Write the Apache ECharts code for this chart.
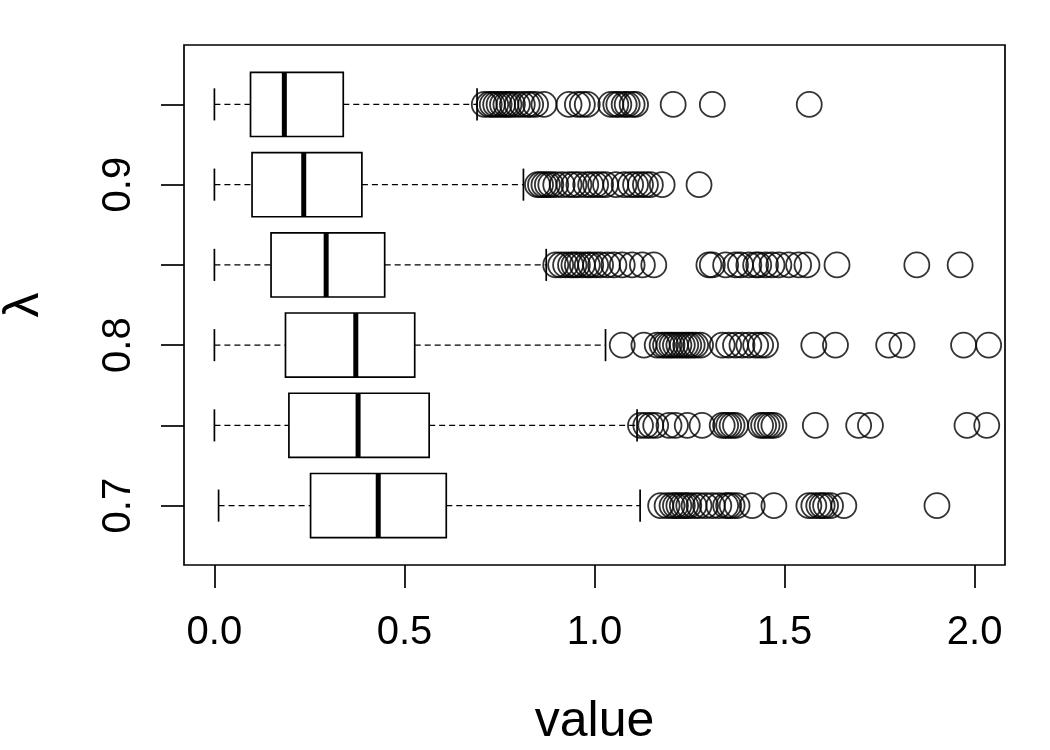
<!DOCTYPE html>
<html>
<head>
<meta charset="utf-8">
<title>boxplot</title>
<script src="https://cdn.jsdelivr.net/npm/echarts@6/dist/echarts.min.js"></script>
<style>
  html, body { margin: 0; padding: 0; background: #fff; }
  #box { width: 1050px; height: 750px; }
</style>
</head>
<body>
<div id="box"></div>
<script>
  // categories (lambda), bottom to top
  const categories = ['0.7', '0.75', '0.8', '0.85', '0.9', '0.95'];
  // five-number summaries per category
  const whiskerLow  = [0.011, 0.0, 0.0, 0.0, 0.0, 0.0];
  const q1          = [0.253, 0.196, 0.187, 0.149, 0.099, 0.095];
  const median      = [0.431, 0.378, 0.372, 0.294, 0.235, 0.184];
  const q3          = [0.610, 0.565, 0.527, 0.448, 0.388, 0.339];
  const whiskerHigh = [1.120, 1.112, 1.029, 0.873, 0.813, 0.691];

  // outliers per category
  const out07 = [1.174, 1.191, 1.204, 1.213, 1.222, 1.231, 1.240, 1.248, 1.262, 1.275, 1.292, 1.310,
    1.327, 1.345, 1.353, 1.362, 1.375, 1.415, 1.472, 1.564, 1.577, 1.590, 1.599, 1.608, 1.621, 1.656, 1.901];
  const out075 = [1.121, 1.135, 1.148, 1.161, 1.196, 1.213, 1.244, 1.283, 1.336, 1.345, 1.353, 1.362,
    1.371, 1.437, 1.445, 1.454, 1.463, 1.472, 1.581, 1.695, 1.726, 1.980, 2.032];
  const out08 = [1.073, 1.130, 1.165, 1.178, 1.187, 1.196, 1.204, 1.213, 1.222, 1.231, 1.240, 1.248,
    1.257, 1.266, 1.279, 1.336, 1.353, 1.371, 1.388, 1.406, 1.424, 1.437, 1.450, 1.577, 1.634, 1.774,
    1.809, 1.971, 2.037];
  const out085 = [0.898, 0.911, 0.924, 0.937, 0.946, 0.955, 0.968, 0.981, 0.990, 1.003, 1.016, 1.034,
    1.051, 1.073, 1.099, 1.126, 1.156, 1.301, 1.310, 1.345, 1.371, 1.384, 1.406, 1.424, 1.432, 1.450,
    1.467, 1.485, 1.511, 1.537, 1.559, 1.638, 1.848, 1.962];
  const out09 = [0.850, 0.858, 0.867, 0.876, 0.885, 0.898, 0.915, 0.933, 0.946, 0.959, 0.977, 0.990,
    1.003, 1.016, 1.029, 1.056, 1.078, 1.095, 1.108, 1.121, 1.134, 1.147, 1.178, 1.275];
  const out095 = [0.710, 0.723, 0.731, 0.740, 0.749, 0.758, 0.767, 0.775, 0.784, 0.797, 0.810, 0.823,
    0.832, 0.845, 0.867, 0.933, 0.955, 0.968, 0.981, 1.043, 1.056, 1.064, 1.078, 1.086, 1.099, 1.108,
    1.207, 1.310, 1.565];

  // axis ticks
  const xTicks = [0, 0.5, 1, 1.5, 2];
  const yTickPos = [1, 2, 3, 4, 5, 6];
  const yLabelPos = [1, 3, 5];

  const FONT = '"Liberation Sans", Arial, Helvetica, sans-serif';

  let boxData = categories.map(function (c, i) {
    return [i + 1, whiskerLow[i], q1[i], median[i], q3[i], whiskerHigh[i]];
  });
  let outliers = [out07, out075, out08, out085, out09, out095];
  let outData = [];
  outliers.forEach(function (arr, i) {
    arr.forEach(function (v) { outData.push([v, i + 1]); });
  });

  // R style box: dashed whiskers, short staples, thick median
  function renderBox(params, api) {
    const pos = api.value(0);
    const half = api.size([0, 1])[1] * 0.4;
    const staple = half / 2;
    const p = function (v) { return api.coord([v, pos]); };
    const lo = p(api.value(1)), a = p(api.value(2)), m = p(api.value(3)),
          b = p(api.value(4)), hi = p(api.value(5));
    const y = m[1];
    const solid = { stroke: '#000', lineWidth: 1.7, fill: null };
    const dashed = { stroke: '#000', lineWidth: 1.4, lineDash: [6, 4], fill: null };
    return {
      type: 'group',
      children: [
        { type: 'line', shape: { x1: lo[0], y1: y, x2: a[0], y2: y }, style: dashed },
        { type: 'line', shape: { x1: b[0], y1: y, x2: hi[0], y2: y }, style: dashed },
        { type: 'line', shape: { x1: lo[0], y1: y - staple, x2: lo[0], y2: y + staple }, style: solid },
        { type: 'line', shape: { x1: hi[0], y1: y - staple, x2: hi[0], y2: y + staple }, style: solid },
        { type: 'rect', shape: { x: a[0], y: y - half, width: b[0] - a[0], height: half * 2 },
          style: { fill: '#fff', stroke: '#000', lineWidth: 1.7 } },
        { type: 'line', shape: { x1: m[0], y1: y - half, x2: m[0], y2: y + half },
          style: { stroke: '#000', lineWidth: 5 } }
      ]
    };
  }

  let chart = echarts.init(document.getElementById('box'));
  const option = {
    animation: false,
    backgroundColor: '#fff',
    grid: {
      left: 184, right: 45, top: 45, bottom: 185,
      containLabel: false,
      outerBoundsMode: 'none',
      show: true,
      borderColor: '#000',
      borderWidth: 1.7,
      backgroundColor: 'transparent'
    },
    xAxis: {
      type: 'value',
      min: -0.08,
      max: 2.08,
      name: 'value',
      nameLocation: 'middle',
      nameGap: 157,
      nameTextStyle: { fontFamily: FONT, fontSize: 50, color: '#000', verticalAlign: 'middle' },
      axisLine: { show: false, onZero: false },
      splitLine: { show: false },
      axisTick: {
        show: true, length: 23, customValues: xTicks,
        lineStyle: { color: '#000', width: 1.7 }
      },
      axisLabel: {
        customValues: xTicks,
        margin: 68,
        verticalAlign: 'middle',
        fontFamily: FONT, fontSize: 40, color: '#000',
        formatter: function (v) { return v.toFixed(1); }
      }
    },
    yAxis: {
      type: 'value',
      min: 0.26,
      max: 6.74,
      name: 'λ',
      nameLocation: 'middle',
      nameRotate: 90,
      nameGap: 160,
      nameTextStyle: { fontFamily: FONT, fontSize: 50, color: '#000', verticalAlign: 'middle' },
      axisLine: { show: false, onZero: false },
      splitLine: { show: false },
      axisTick: {
        show: true, length: 23, customValues: yTickPos,
        lineStyle: { color: '#000', width: 1.7 }
      },
      axisLabel: {
        customValues: yLabelPos,
        rotate: 90,
        margin: 65,
        align: 'center',
        verticalAlign: 'middle',
        fontFamily: FONT, fontSize: 40, color: '#000',
        formatter: function (v) { return categories[Math.round(v) - 1]; }
      }
    },
    series: [
      {
        type: 'custom',
        name: 'box',
        renderItem: renderBox,
        encode: { x: [1, 2, 3, 4, 5], y: 0 },
        data: boxData,
        z: 2
      },
      {
        type: 'scatter',
        name: 'outliers',
        symbol: 'circle',
        symbolSize: 25,
        itemStyle: { color: 'rgba(0,0,0,0)', borderColor: '#000', borderWidth: 1.8 },
        data: outData,
        clip: true,
        z: 3
      }
    ]
  };
  chart.setOption(option);
  window.addEventListener('resize', function () {
    chart.resize();
  });
</script>
</body>
</html>
